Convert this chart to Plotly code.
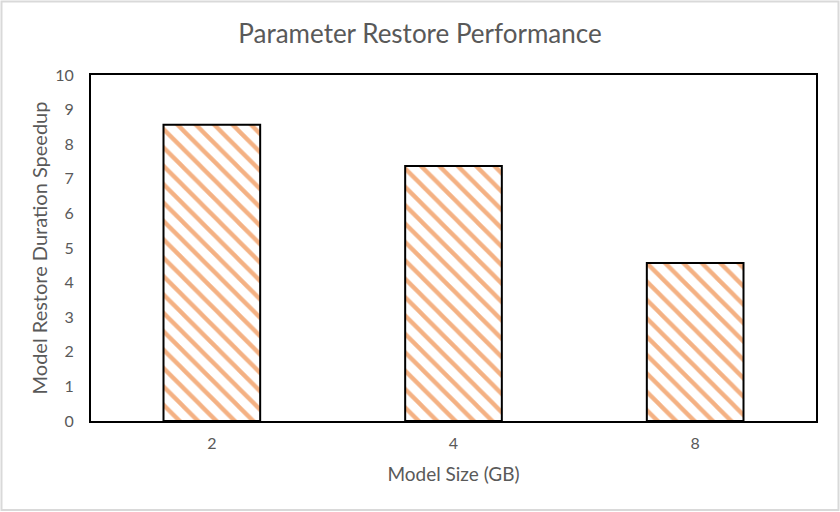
import plotly.graph_objects as go

categories = ["2", "4", "8"]
speedup = [8.56, 7.37, 4.57]
y_ticks = list(range(0, 11))

W, H = 840, 512
L, R, T, B = 91, 24, 75, 91
pw, ph = W - L - R, H - T - B

fig = go.Figure()
fig.add_trace(go.Bar(
    x=categories, y=speedup,
    marker=dict(
        color="white",
        line=dict(color="black", width=2),
        pattern=dict(shape="\\", fgcolor="#F4B183", bgcolor="white", fgopacity=1,
                     size=13, solidity=0.33),
    ),
))

font_family = "Lato, Open Sans, sans-serif"
fig.update_layout(
    width=W, height=H,
    margin=dict(l=L, r=R, t=T, b=B),
    paper_bgcolor="white", plot_bgcolor="white",
    bargap=0.6,
    showlegend=False,
    title=dict(text="Parameter Restore Performance", x=0.5, xanchor="center",
               y=1 - 34 / H, yanchor="middle",
               font=dict(family=font_family, size=26, color="#595959")),
    font=dict(family=font_family, color="#595959"),
    xaxis=dict(type="category", showline=True, mirror=True, linecolor="black", linewidth=2,
               ticks="", tickfont=dict(size=16, color="#595959"), ticklabelstandoff=7,
               title=dict(text="Model Size (GB)", font=dict(size=19, color="#595959"), standoff=16)),
    yaxis=dict(range=[0, 10], tickvals=y_ticks, showline=True, mirror=True, linecolor="black",
               linewidth=2, showgrid=False, zeroline=False, ticks="",
               tickfont=dict(size=16, color="#595959"), ticklabelstandoff=12,
               title=dict(text="Model Restore Duration Speedup", font=dict(size=20, color="#595959"),
                          standoff=2)),
)

# light gray outer frame around the whole chart
fig.add_shape(type="rect", xref="paper", yref="paper",
              x0=(1.5 - L) / pw, x1=(W - 1.5 - L) / pw,
              y0=-(H - 2 - T - ph) / ph, y1=1 + (T - 1.5) / ph,
              line=dict(color="#D9D9D9", width=2), fillcolor="rgba(0,0,0,0)", layer="below")

fig.write_html("out.html")
